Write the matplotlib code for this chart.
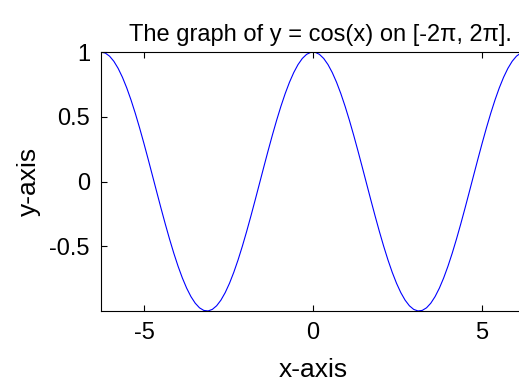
import numpy as np
import matplotlib
matplotlib.use("Agg")
import matplotlib.pyplot as plt

# Curve y = cos(x) sampled on [-2*pi, 2*pi] as in the title
x_min, x_max = -2 * np.pi, 2 * np.pi
x_vals = np.linspace(x_min, x_max, 100)
y_vals = np.cos(x_vals)

x_ticks = [-5, 0, 5]
y_ticks = [-0.5, 0, 0.5, 1]
y_tick_labels = ["-0.5", "0", "0.5", "1"]

plt.rcParams['font.family'] = ['Liberation Sans', 'DejaVu Sans']
plt.rcParams['axes.unicode_minus'] = False

fig = plt.figure(figsize=(5.19, 3.85), dpi=100)
ax = fig.add_axes([0.1946, 0.1922, 0.817, 0.6727])

ax.plot(x_vals, y_vals, color=(0, 0, 1), linewidth=0.8)

ax.set_xlim(x_min, x_max)
ax.set_ylim(-1, 1)
ax.set_xticks(x_ticks)
ax.set_yticks(y_ticks)
ax.set_yticklabels(y_tick_labels)

ax.tick_params(direction='in', length=4, width=0.8, labelsize=17,
               top=True, right=True, pad=8)
for s in ax.spines.values():
    s.set_linewidth(0.8)

ax.set_title("The graph of y = cos(x) on [-2\u03c0, 2\u03c0].", fontsize=17, pad=8, x=0.518)
ax.set_xlabel("x-axis", fontsize=19, labelpad=10)
ax.set_ylabel("y-axis", fontsize=19, labelpad=6)

fig.savefig("out.png", dpi=100)
